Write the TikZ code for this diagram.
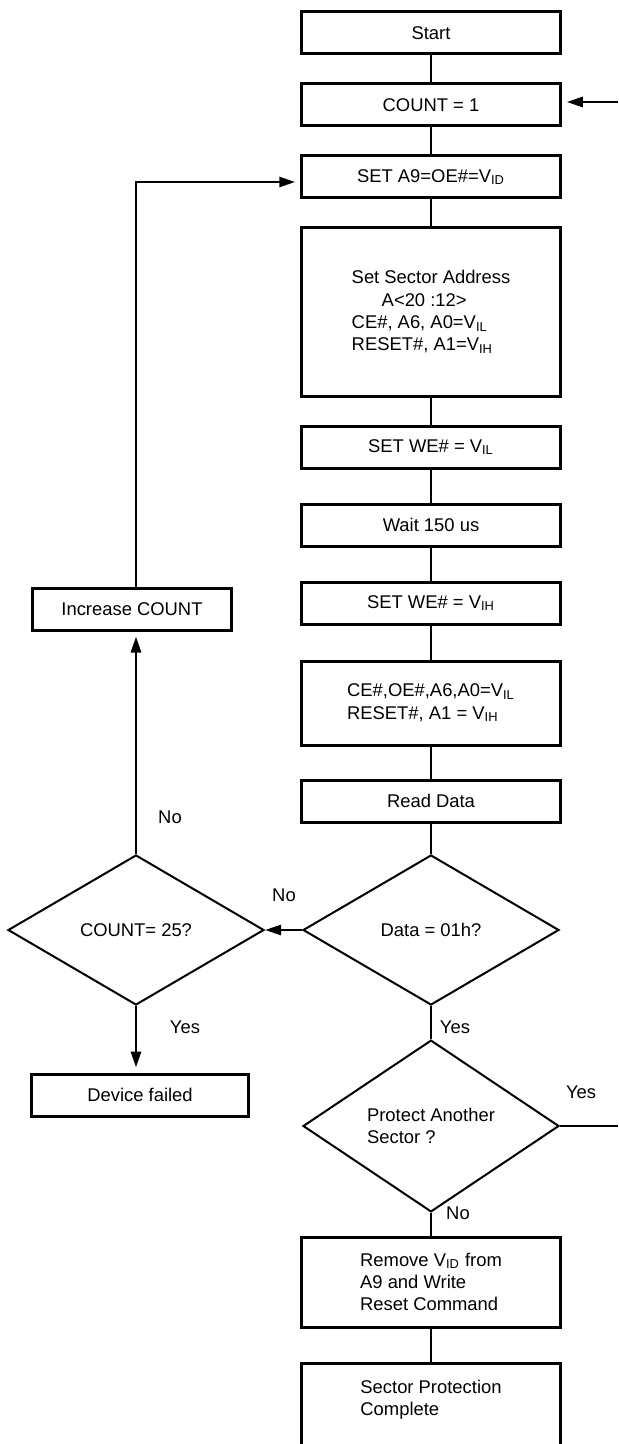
\documentclass[tikz,border=0pt]{standalone}
\usepackage{fontspec}
\setmainfont{Liberation Sans}
\usepackage{tikz}
\usetikzlibrary{arrows.meta,shapes.geometric,positioning}

\begin{document}
\begin{tikzpicture}[
  x=0.5pt, y=-0.5pt,
  font=\fontsize{9.2}{11.2}\selectfont,
  pbox/.style={draw, line width=1.5pt, minimum width=129.25pt, minimum height=21pt, inner sep=2pt},
  dbox/.style={draw, diamond, line width=1pt, minimum width=128pt, minimum height=75pt, inner sep=1pt},
  flow/.style={line width=1.4pt},
  arr/.style={flow, -{Triangle[length=8pt,width=5pt]}},
  jump/.style={arr, shorten >=2.5pt},
  tlabel/.style={inner sep=1pt},
]
\useasboundingbox (0,0) rectangle (618,1444);
\node[pbox] (start) at (431,33) {Start};
\node[pbox] (count) at (431,105) {COUNT = 1};
\node[pbox] (setid) at (431,177) {SET A9=OE\#=V\textsubscript{ID}};
\node[pbox, minimum height=84pt, align=left] (addr) at (431,312)
  {Set Sector Address\\\hspace*{15pt}A<20 :12>\\CE\#, A6, A0=V\textsubscript{IL}\\RESET\#, A1=V\textsubscript{IH}};
\node[pbox] (weil) at (431,447) {SET WE\# = V\textsubscript{IL}};
\node[pbox] (wait) at (431,525) {Wait 150 us};
\node[pbox] (weih) at (431,603) {SET WE\# = V\textsubscript{IH}};
\node[pbox, minimum height=42pt, align=left] (rdset) at (431,703)
  {CE\#,OE\#,A6,A0=V\textsubscript{IL}\\RESET\#, A1 = V\textsubscript{IH}};
\node[pbox] (read) at (431,801) {Read Data};
\node[dbox] (data) at (431,930) {Data = 01h?};
\node[dbox] (cnt) at (136,930) {COUNT= 25?};
\node[pbox, minimum width=99.75pt] (incr) at (132,609) {Increase COUNT};
\node[pbox, minimum width=108.75pt] (fail) at (140,1095) {Device failed};
\node[dbox, align=left] (more) at (431,1126) {Protect Another\\Sector ?};
\node[pbox, minimum height=45pt, align=left] (remove) at (431,1282)
  {Remove V\textsubscript{ID} from\\A9 and Write\\Reset Command};
\node[pbox, minimum height=60pt, anchor=north] (done) at (431,1362) {};
\node[align=left, below=5.5pt of done.north] (donetext) {Sector Protection\\Complete};
\coordinate (cin) at (618,102);
\coordinate (cout) at (618,1126);

\draw[flow] (start) -- (count);
\draw[flow] (count) -- (setid);
\draw[flow] (setid) -- (addr);
\draw[flow] (addr) -- (weil);
\draw[flow] (weil) -- (wait);
\draw[flow] (wait) -- (weih);
\draw[flow] (weih) -- (rdset);
\draw[flow] (rdset) -- (read);
\draw[flow] (read) -- (data);
\draw[flow] (data) -- (more);
\draw[flow] (more) -- (remove);
\draw[flow] (remove) -- (done);
\draw[arr] (data) -- (cnt);
\draw[jump] (cnt.north) -- (cnt.north |- incr.south);
\draw[jump] (cnt.south) -- (cnt.south |- fail.north);
\draw[jump] (cnt.north |- incr.north) |- ([yshift=-2.5pt]setid.west);
\draw[jump] (cin) -- (cin -| count.east);
\draw[flow] (more.east) -- (cout);

\node[tlabel] (no1) at (170,817) {No};
\node[tlabel] (no2) at (284,895) {No};
\node[tlabel] (yes1) at (185,1027) {Yes};
\node[tlabel] (yes2) at (455,1027) {Yes};
\node[tlabel] (yes3) at (581,1092) {Yes};
\node[tlabel] (no3) at (458,1213) {No};
\end{tikzpicture}
\end{document}
